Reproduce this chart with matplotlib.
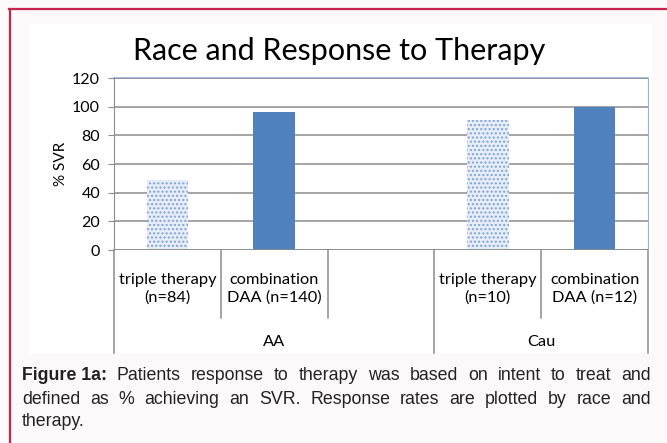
import matplotlib
matplotlib.use("Agg")
from matplotlib import pyplot as plt
from matplotlib.patches import Rectangle
from matplotlib.transforms import blended_transform_factory
import numpy as np

# data
categories = ["triple therapy\n(n=84)", "combination\nDAA (n=140)", "",
              "triple therapy\n(n=10)", "combination\nDAA (n=12)"]
svr = [49, 96, np.nan, 91, 100]
therapy = ["triple", "combo", "", "triple", "combo"]
groups = ["AA", "Cau"]
group_span = [(0, 3), (3, 5)]   # category index ranges
yticks = [0, 20, 40, 60, 80, 100, 120]

caption_lines = [
    ["Patients", "response", "to", "therapy", "was", "based", "on", "intent", "to", "treat", "and"],
    ["defined", "as", "%", "achieving", "an", "SVR.", "Response", "rates", "are", "plotted", "by", "race", "and"],
    ["therapy."],
]

W, H = 667, 443
fig = plt.figure(figsize=(W / 100, H / 100), dpi=100)
fig.patch.set_facecolor("#fcf9fa")

def fx(px):
    return px / W

def fy(py):
    return 1 - py / H

# crimson frame (top + left)
fig.add_artist(plt.Line2D([fx(9), 1], [fy(8.5), fy(8.5)], color="#c8244f", lw=1.6))
fig.add_artist(plt.Line2D([fx(9.5), fx(9.5)], [fy(8.5), 0], color="#c8244f", lw=1.6))
# white chart area
fig.add_artist(Rectangle((fx(29), fy(353)), fx(652 - 29), (353 - 24) / H,
                         facecolor="white", edgecolor="none", zorder=0))

ax = fig.add_axes([fx(114), fy(250), fx(648 - 114), (250 - 78) / H])
ax.set_facecolor("white")
x = np.arange(len(categories)) + 0.5
for xi, v, t in zip(x, svr, therapy):
    if np.isnan(v):
        continue
    if t == "triple":
        ax.bar(xi, v, width=0.39, color="#e6edf7", edgecolor="#7da3d6",
               hatch="....", linewidth=0, zorder=3)
    else:
        ax.bar(xi, v, width=0.39, color="#4f81bd", linewidth=0, zorder=3)

ax.set_xlim(0, len(categories))
ax.set_ylim(0, 120)
ax.set_yticks(yticks)
ax.set_xticks([])
ax.grid(axis="y", color="#8c8c8c", linewidth=1.1, zorder=0)
for s in ["top", "bottom"]:
    ax.spines[s].set_visible(False)
ax.spines["left"].set_color("#8c8c8c")
ax.spines["right"].set_color("#95b3d7")
ax.axhline(120, color="#95b3d7", lw=1.2, zorder=1, clip_on=False)
ax.axhline(0, color="#8c8c8c", lw=1.2, zorder=4)
ax.tick_params(axis="y", length=4, color="#8c8c8c", labelsize=11.5, pad=6)
for lab in ax.get_yticklabels():
    lab.set_fontfamily("Lato")
ax.set_ylabel("% SVR", fontsize=11, family="Lato", labelpad=3)

tr = blended_transform_factory(ax.transData, ax.transAxes)
h = 172
short = (250 - 318) / h
long_ = (250 - 353) / h
bounds = [0, 1, 2, 3, 4, 5]
for b in bounds:
    is_group_edge = any(b == g0 or b == g1 for g0, g1 in group_span)
    ax.plot([b, b], [0, long_ if is_group_edge else short], transform=tr,
            color="#8c8c8c", lw=1.1, clip_on=False)
for xi, c in zip(x, categories):
    ax.text(xi, (250 - 289) / h, c, transform=tr, ha="center", va="center",
            fontsize=11.8, family="Lato", linespacing=1.3)
for g, (g0, g1) in zip(groups, group_span):
    ax.text((g0 + g1) / 2, (250 - 342) / h, g, transform=tr, ha="center",
            va="center", fontsize=11.8, family="Lato")

fig.text(fx(339), fy(60), "Race and Response to Therapy", ha="center",
         va="baseline", fontsize=22, family="Lato")

# caption, justified
fig.canvas.draw()
r = fig.canvas.get_renderer()
left, right = 22, 651
line_y = [376, 399, 421]
fs = 12.8
for i, words in enumerate(caption_lines):
    items = []
    if i == 0:
        items.append(("Figure 1a:", "bold"))
    items += [(w, "normal") for w in words]
    widths = []
    for w, wt in items:
        t = fig.text(0, 0, w, fontsize=fs, family="Liberation Sans", weight=wt)
        widths.append(t.get_window_extent(r).width)
        t.remove()
    if i < len(caption_lines) - 1:
        gap = (right - left - sum(widths)) / (len(items) - 1)
    else:
        gap = 4
    px = left
    for (w, wt), wd in zip(items, widths):
        fig.text(fx(px), fy(line_y[i]), w, fontsize=fs, family="Liberation Sans",
                 weight=wt, va="center", ha="left", color="#222222")
        px += wd + gap

fig.savefig("out.png", dpi=100, facecolor=fig.get_facecolor())
